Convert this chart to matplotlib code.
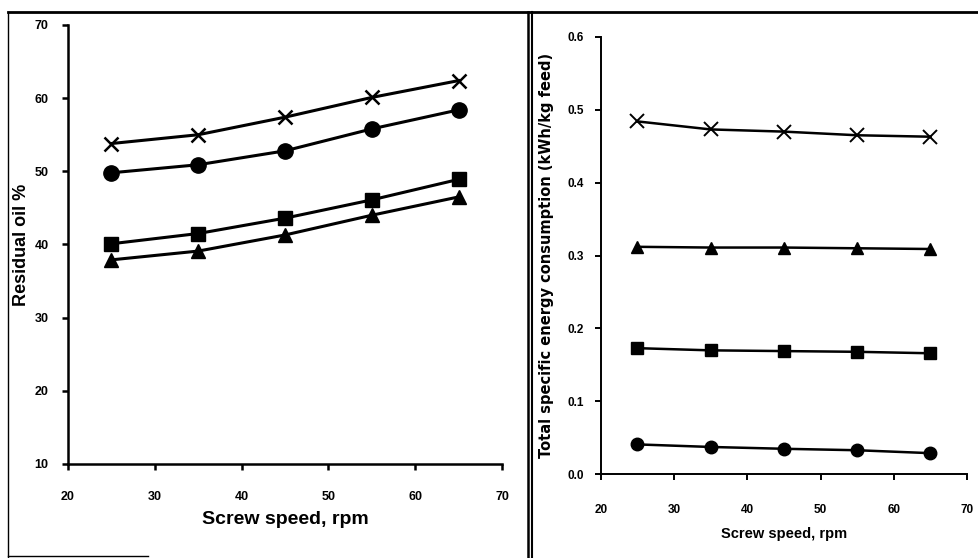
import matplotlib.pyplot as plt
from matplotlib.lines import Line2D

# screw speed, rpm
speed = [25, 35, 45, 55, 65]

# residual oil %, one list per series (marker in name)
oil_cross = [53.8, 55.0, 57.4, 60.1, 62.4]
oil_circle = [49.8, 50.9, 52.8, 55.8, 58.4]
oil_square = [40.1, 41.5, 43.6, 46.1, 48.9]
oil_triangle = [37.9, 39.1, 41.3, 44.0, 46.5]

# total specific energy consumption, kWh/kg feed
sec_cross = [0.484, 0.473, 0.470, 0.465, 0.463]
sec_triangle = [0.312, 0.311, 0.311, 0.310, 0.309]
sec_square = [0.173, 0.170, 0.169, 0.168, 0.166]
sec_circle = [0.041, 0.0375, 0.035, 0.033, 0.029]

left_xticks = [20, 30, 40, 50, 60, 70]
left_yticks = [10, 20, 30, 40, 50, 60, 70]
right_yticks = [0.0, 0.1, 0.2, 0.3, 0.4, 0.5, 0.6]
right_ytick_labels = ['0.0', '0.1', '0.2', '0.3', '0.4', '0.5', '0.6']

plt.rcParams['font.family'] = ['Liberation Sans', 'DejaVu Sans']

fig = plt.figure(figsize=(9.79, 5.58), dpi=100)
fig.patch.set_facecolor('white')


def style_axes(ax, lw):
    ax.spines['top'].set_visible(False)
    ax.spines['right'].set_visible(False)
    ax.spines['left'].set_linewidth(lw)
    ax.spines['bottom'].set_linewidth(lw)
    ax.tick_params(direction='out', length=4, width=lw, color='black')


# left panel: residual oil
ax1 = fig.add_axes([0.0695, 0.1685, 0.4433, 0.7867])
ax1.plot(speed, oil_cross, color='black', lw=2.2, marker='x', ms=10, mew=1.8)
ax1.plot(speed, oil_circle, color='black', lw=2.2, marker='o', ms=11)
ax1.plot(speed, oil_square, color='black', lw=2.2, marker='s', ms=10)
ax1.plot(speed, oil_triangle, color='black', lw=2.2, marker='^', ms=10)
ax1.set_xlim(20, 70)
ax1.set_ylim(10, 70)
ax1.set_xticks(left_xticks)
ax1.set_yticks(left_yticks)
style_axes(ax1, 1.8)
ax1.tick_params(axis='x', pad=15.5, labelsize=9)
ax1.tick_params(axis='y', pad=10, labelsize=9)
for lab in ax1.get_xticklabels() + ax1.get_yticklabels():
    lab.set_fontweight('bold')
ax1.set_xlabel('Screw speed, rpm', fontsize=14, fontweight='bold', labelpad=6)
ax1.set_ylabel('Residual oil %', fontsize=13, fontweight='bold', labelpad=3)

# right panel: specific energy consumption
ax2 = fig.add_axes([0.6136, 0.15, 0.3742, 0.784])
ax2.plot(speed, sec_cross, color='black', lw=1.8, marker='x', ms=10, mew=1.4)
ax2.plot(speed, sec_triangle, color='black', lw=1.8, marker='^', ms=9)
ax2.plot(speed, sec_square, color='black', lw=1.8, marker='s', ms=9)
ax2.plot(speed, sec_circle, color='black', lw=1.8, marker='o', ms=9)
ax2.set_xlim(20, 70)
ax2.set_ylim(0, 0.6)
ax2.set_xticks(left_xticks)
ax2.set_yticks(right_yticks)
ax2.set_yticklabels(right_ytick_labels)
style_axes(ax2, 1.4)
ax2.tick_params(axis='x', pad=17.5, labelsize=8.5)
ax2.tick_params(axis='y', pad=8, labelsize=8.5)
for lab in ax2.get_xticklabels() + ax2.get_yticklabels():
    lab.set_fontweight('bold')
ax2.set_xlabel('Screw speed, rpm', fontsize=10.5, fontweight='bold', labelpad=8,
               family=['Liberation Sans Narrow', 'Liberation Sans'])
ax2.set_ylabel('Total specific energy consumption (kWh/kg feed)', fontsize=10.5,
               fontweight='bold', labelpad=10, family=['DejaVu Sans'])

# scanned page frame lines
W, H = 979.0, 558.0
frame = [
    ([8 / W, 1.0], [1 - 11.5 / H, 1 - 11.5 / H], 2.0),
    ([8 / W, 8 / W], [1 - 12 / H, 0.0], 1.0),
    ([528 / W, 528 / W], [1 - 12 / H, 0.0], 1.8),
    ([532 / W, 532 / W], [1 - 12 / H, 0.0], 1.5),
    ([8 / W, 148 / W], [1 - 556 / H, 1 - 556 / H], 1.0),
]
for xs, ys, lw in frame:
    fig.add_artist(Line2D(xs, ys, color='black', lw=lw, transform=fig.transFigure))

fig.savefig('out.png', dpi=100)
